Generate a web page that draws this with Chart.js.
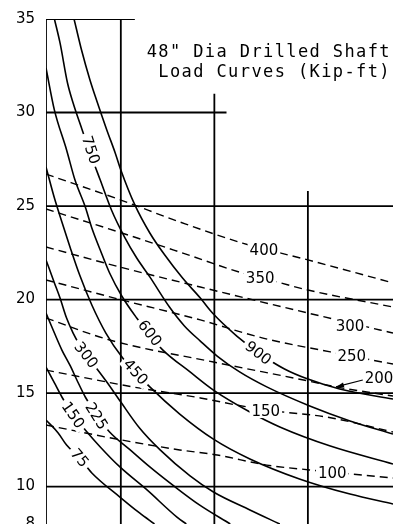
<!DOCTYPE html>
<html>
<head>
<meta charset="utf-8">
<script src="https://cdn.jsdelivr.net/npm/chart.js@4.4.1/dist/chart.umd.min.js"></script>
<style>
  html, body { margin:0; padding:0; background:#fff; overflow:hidden; }
  canvas { display:block; }
</style>
</head>
<body>
<canvas id="chart" width="393" height="524"></canvas>
<script>
const titleLines = ['48" Dia Drilled Shaft', 'Load Curves (Kip-ft)'];
const yTickValues = [8, 10, 15, 20, 25, 30, 35];

// Solid load curves (Kip-ft)
const c900x = [0.50, 0.58, 0.67, 0.74, 0.85, 0.94, 1.00, 1.15, 1.31, 1.47, 1.66, 1.85, 1.98, 2.24, 2.49, 2.75, 3.00, 3.34, 3.91];
const c900y = [35.0, 33.34, 31.74, 30.67, 29.07, 27.84, 26.93, 25.06, 23.56, 22.38, 21.15, 20.08, 19.28, 18.05, 17.09, 16.29, 15.75, 15.22, 14.68];
const c750x = [0.29, 0.35, 0.43, 0.49, 0.58, 0.68, 0.78, 0.90, 1.04, 1.17, 1.31, 1.52, 1.68, 1.85, 2.03, 2.27, 2.56, 3.02, 3.45, 3.91];
const c750y = [35.0, 33.72, 31.58, 30.51, 29.17, 27.73, 26.39, 24.79, 23.34, 22.22, 21.21, 19.60, 18.59, 17.78, 16.98, 16.13, 15.33, 14.31, 13.51, 12.81];
const c600x = [0.20, 0.29, 0.42, 0.51, 0.62, 0.69, 0.78, 0.88, 1.01, 1.17, 1.31, 1.45, 1.74, 1.99, 2.38, 2.70, 3.24, 3.91];
const c600y = [32.38, 30.13, 28.00, 26.39, 24.95, 23.83, 22.65, 21.42, 20.19, 19.01, 18.11, 17.30, 16.13, 15.16, 13.99, 13.19, 12.17, 11.21];
const c450x = [0.20, 0.29, 0.37, 0.46, 0.56, 0.69, 0.84, 1.02, 1.16, 1.31, 1.63, 1.99, 2.38, 2.91, 3.45, 3.91];
const c450y = [27.09, 25.43, 24.15, 22.76, 21.31, 19.71, 18.21, 16.88, 16.13, 15.33, 13.88, 12.54, 11.48, 10.41, 9.60, 9.07];
const c300x = [0.20, 0.29, 0.35, 0.42, 0.49, 0.56, 0.63, 0.73, 0.85, 1.00, 1.20, 1.42, 1.74, 1.99, 2.38, 2.70];
const c300y = [22.12, 20.89, 20.08, 19.01, 18.21, 17.57, 17.04, 16.39, 15.59, 14.52, 13.13, 11.96, 10.57, 9.71, 8.75, 8.00];
const c225x = [0.20, 0.29, 0.37, 0.46, 0.53, 0.62, 0.74, 0.88, 1.10, 1.31, 1.58, 1.84, 2.17];
const c225y = [19.28, 18.21, 17.30, 16.45, 15.70, 14.79, 13.83, 12.92, 11.96, 11.05, 9.98, 9.02, 8.00];
const c150x = [0.20, 0.29, 0.37, 0.49, 0.62, 0.78, 0.99, 1.28, 1.60, 1.70];
const c150y = [16.39, 15.54, 14.79, 13.83, 13.03, 12.12, 11.05, 9.82, 8.37, 8.00];
const c75x = [0.20, 0.33, 0.42, 0.56, 0.69, 0.99, 1.20, 1.36];
const c75y = [13.56, 12.87, 12.22, 11.53, 10.73, 9.44, 8.59, 8.00];

// Dashed curves
const d400x = [0.20, 1.00, 1.63, 2.30, 3.00, 3.91];
const d400y = [26.71, 25.32, 24.15, 23.02, 22.12, 20.89];
const d350x = [0.20, 1.01, 1.63, 2.30, 2.67, 3.00, 3.91];
const d350y = [24.84, 23.56, 22.54, 21.42, 20.94, 20.51, 19.60];
const d300x = [0.20, 0.99, 1.85, 3.00, 3.45, 3.91];
const d300y = [22.81, 21.74, 20.67, 19.28, 18.75, 18.21];
const d250x = [0.20, 1.01, 1.85, 2.52, 3.24, 3.91];
const d250y = [21.05, 19.98, 18.91, 17.94, 17.20, 16.55];
const d200x = [0.20, 0.88, 1.99, 3.00, 3.30, 3.91];
const d200y = [19.01, 17.84, 16.66, 15.65, 15.33, 14.84];
const d150x = [0.20, 1.13, 1.85, 2.35, 2.73, 3.20, 3.91];
const d150y = [16.23, 15.33, 14.74, 14.26, 13.99, 13.72, 12.92];
const d100x = [0.20, 1.01, 1.63, 2.03, 2.56, 3.02, 3.91];
const d100y = [13.29, 12.49, 11.96, 11.69, 11.15, 10.89, 10.46];

// Curve labels
const solidLabelText  = ['900', '750', '600', '450', '300', '225', '150', '75'];
const solidLabelX     = [2.47, 0.68, 1.31, 1.16, 0.63, 0.74, 0.49, 0.56];
const solidLabelY     = [17.14, 28.0, 18.21, 16.13, 17.04, 13.77, 13.83, 11.53];
const solidLabelAngle = [38, 72, 52, 48, 52, 58, 55, 50];
const dashLabelText = ['400', '350', '300', '250', '200', '150', '100'];
const dashLabelX    = [2.53, 2.49, 3.45, 3.47, 3.76, 2.55, 3.26];
const dashLabelY    = [22.65, 21.15, 18.59, 16.98, 15.81, 14.04, 10.73];
const arrowFrom = [3.587, 15.70];
const arrowTo   = [3.30, 15.33];

// Grid segments
const gridHy  = [35, 30, 25, 20, 15, 10];
const gridHx0 = [0.2, 0.2, 0.2, 0.2, 0.2, 0.2];
const gridHx1 = [1.15, 2.13, 3.91, 3.91, 3.91, 3.91];
const gridVx  = [0.2, 1, 2, 3];
const gridVy0 = [8, 8, 8, 8];
const gridVy1 = [35, 35, 31.0, 25.8];

const pts = (xs, ys) => xs.map((x, i) => ({x: x, y: ys[i]}));
const solids = [[c900x,c900y],[c750x,c750y],[c600x,c600y],[c450x,c450y],[c300x,c300y],[c225x,c225y],[c150x,c150y],[c75x,c75y]];
const dashes = [[d400x,d400y],[d350x,d350y],[d300x,d300y],[d250x,d250y],[d200x,d200y],[d150x,d150y],[d100x,d100y]];

const datasets = [];
gridHy.forEach((yv, i) => datasets.push({data: [{x: gridHx0[i], y: yv}, {x: gridHx1[i], y: yv}], showLine: true, borderColor: '#000', borderWidth: 1.8, pointRadius: 0, tension: 0}));
gridVx.forEach((xv, i) => datasets.push({data: [{x: xv, y: gridVy0[i]}, {x: xv, y: gridVy1[i]}], showLine: true, borderColor: '#000', borderWidth: 1.8, pointRadius: 0, tension: 0}));
solids.forEach(c => datasets.push({data: pts(c[0], c[1]), showLine: true, borderColor: '#000', borderWidth: 1.6, pointRadius: 0, cubicInterpolationMode: 'monotone'}));
dashes.forEach(c => datasets.push({data: pts(c[0], c[1]), showLine: true, borderColor: '#000', borderWidth: 1.4, borderDash: [8, 5], pointRadius: 0, cubicInterpolationMode: 'monotone'}));

const labelPlugin = {
  id: 'curveLabels',
  afterDatasetsDraw(chart) {
    const {ctx, scales: {x, y}, chartArea} = chart;
    ctx.save();
    ctx.font = '15px "DejaVu Sans"';
    ctx.textAlign = 'center';
    ctx.textBaseline = 'middle';
    solidLabelText.forEach((t, i) => {
      const px = x.getPixelForValue(solidLabelX[i]);
      const py = y.getPixelForValue(solidLabelY[i]);
      const w = ctx.measureText(t).width;
      ctx.save();
      ctx.translate(px, py);
      ctx.rotate(solidLabelAngle[i] * Math.PI / 180);
      ctx.fillStyle = '#fff';
      ctx.fillRect(-w / 2 - 3, -7, w + 6, 14);
      ctx.fillStyle = '#000';
      ctx.fillText(t, 0, 1);
      ctx.restore();
    });
    dashLabelText.forEach((t, i) => {
      const px = x.getPixelForValue(dashLabelX[i]);
      const py = y.getPixelForValue(dashLabelY[i]);
      const w = ctx.measureText(t).width;
      ctx.fillStyle = '#fff';
      ctx.fillRect(px - w / 2 - 2, py - 7, w + 4, 14);
      ctx.fillStyle = '#000';
      ctx.fillText(t, px, py + 1);
    });
    // arrow for 200
    const ax0 = x.getPixelForValue(arrowFrom[0]), ay0 = y.getPixelForValue(arrowFrom[1]);
    const ax1 = x.getPixelForValue(arrowTo[0]), ay1 = y.getPixelForValue(arrowTo[1]);
    ctx.strokeStyle = '#000';
    ctx.lineWidth = 1.2;
    ctx.beginPath(); ctx.moveTo(ax0, ay0); ctx.lineTo(ax1, ay1); ctx.stroke();
    const ang = Math.atan2(ay1 - ay0, ax1 - ax0);
    ctx.fillStyle = '#000';
    ctx.beginPath();
    ctx.moveTo(ax1, ay1);
    ctx.lineTo(ax1 - 8 * Math.cos(ang) + 2.5 * Math.sin(ang), ay1 - 8 * Math.sin(ang) - 2.5 * Math.cos(ang));
    ctx.lineTo(ax1 - 8 * Math.cos(ang) - 2.5 * Math.sin(ang), ay1 - 8 * Math.sin(ang) + 2.5 * Math.cos(ang));
    ctx.closePath(); ctx.fill();
    // title
    ctx.font = '17px "DejaVu Sans Mono"';
    if ('letterSpacing' in ctx) ctx.letterSpacing = '1.4px';
    ctx.textAlign = 'right';
    ctx.textBaseline = 'alphabetic';
    ctx.fillStyle = '#000';
    ctx.fillText(titleLines[0], chartArea.right - 2, 57);
    ctx.fillText(titleLines[1], chartArea.right - 2, 77);
    ctx.restore();
  }
};

new Chart(document.getElementById('chart'), {
  type: 'scatter',
  data: { datasets: datasets },
  options: {
    responsive: false,
    animation: false,
    devicePixelRatio: 1,
    layout: { padding: { top: 19, left: 0, right: 0, bottom: 0 } },
    plugins: { legend: { display: false }, tooltip: { enabled: false }, title: { display: false } },
    scales: {
      x: { type: 'linear', min: 0.2, max: 3.91, display: false },
      y: {
        type: 'linear', min: 8, max: 35, position: 'left',
        afterBuildTicks: s => { s.ticks = yTickValues.map(v => ({value: v})); },
        afterFit: s => { s.width = 46; s.paddingTop = 0; s.paddingBottom = 0; },
        grid: { display: false, drawTicks: false },
        border: { display: false },
        ticks: { color: '#000', font: { family: 'DejaVu Sans', size: 15 }, padding: 11, autoSkip: false }
      }
    }
  },
  plugins: [labelPlugin]
});
</script>
</body>
</html>
